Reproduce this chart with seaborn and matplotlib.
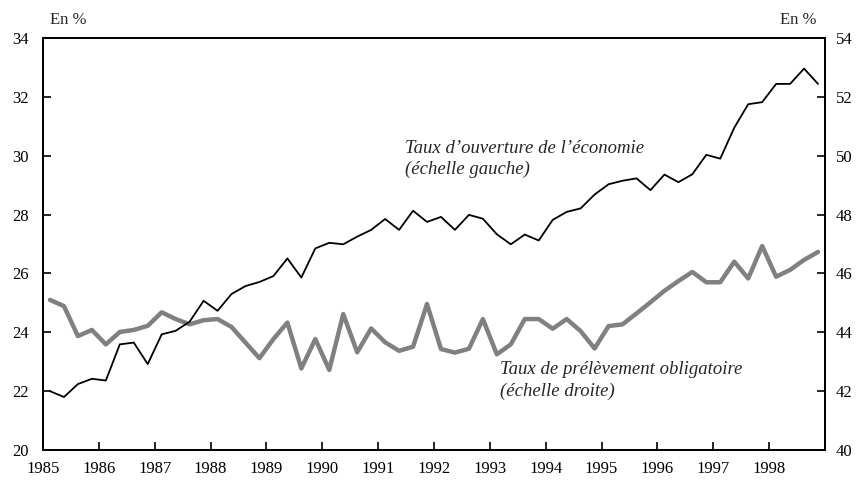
import matplotlib
matplotlib.use('Agg')

import matplotlib.pyplot as plt
import seaborn as sns
import pandas as pd
import numpy as np

# quarterly data, 1985Q1 - 1998Q4
years = list(range(1985, 1999))
quarters = [y + 0.125 + 0.25 * q for y in years for q in range(4)]

ouverture = [22.0, 21.8, 22.24, 22.42, 22.36, 23.59, 23.65, 22.92, 23.93, 24.05,
             24.36, 25.07, 24.73, 25.30, 25.57, 25.71, 25.91, 26.51, 25.86, 26.85,
             27.04, 26.99, 27.25, 27.48, 27.85, 27.48, 28.13, 27.75, 27.92, 27.48,
             27.99, 27.86, 27.33, 26.99, 27.32, 27.12, 27.82, 28.09, 28.21, 28.68,
             29.03, 29.15, 29.23, 28.83, 29.36, 29.10, 29.37, 30.03, 29.90, 30.95,
             31.75, 31.82, 32.44, 32.44, 32.96, 32.44]

prelevement = [45.10, 44.89, 43.87, 44.08, 43.59, 44.01, 44.08, 44.22, 44.68, 44.45,
               44.27, 44.41, 44.45, 44.18, 43.65, 43.12, 43.77, 44.33, 42.77, 43.77,
               42.72, 44.62, 43.32, 44.13, 43.66, 43.37, 43.51, 44.96, 43.43, 43.31,
               43.44, 44.45, 43.25, 43.59, 44.45, 44.45, 44.12, 44.45, 44.04, 43.45,
               44.21, 44.27, 44.64, 45.02, 45.41, 45.74, 46.05, 45.70, 45.70, 46.40,
               45.83, 46.93, 45.89, 46.12, 46.46, 46.73]

left_ticks = [20, 22, 24, 26, 28, 30, 32, 34]
right_ticks = [40, 42, 44, 46, 48, 50, 52, 54]

df = pd.DataFrame({'t': quarters, 'ouv': ouverture, 'prel': prelevement})

sns.set_style("ticks")
plt.rcParams['font.family'] = ['Liberation Serif', 'DejaVu Serif']

fig = plt.figure(figsize=(8.57, 4.82), dpi=100)
ax = fig.add_axes([43/857, 1 - 450/482, (825 - 43)/857, (450 - 38)/482])
ax2 = ax.twinx()

sns.lineplot(data=df, x='t', y='prel', ax=ax2, color='#808080', linewidth=3.2)
sns.lineplot(data=df, x='t', y='ouv', ax=ax, color='black', linewidth=1.3)
ax.set_zorder(ax2.get_zorder() + 1)
ax.patch.set_visible(False)

ax.set_xlim(1985, 1999)
ax.set_ylim(20, 34)
ax2.set_ylim(40, 54)
ax.set_yticks(left_ticks)
ax2.set_yticks(right_ticks)

ax.set_xticks(years)
ax.set_xticklabels([str(y) for y in years])

for a in (ax, ax2):
    a.set_xlabel('')
    a.set_ylabel('')
    for s in a.spines.values():
        s.set_visible(True)
        s.set_linewidth(1.3)
        s.set_color('black')
    a.tick_params(direction='in', length=6, width=1.2, labelsize=12, colors='black')
ax.tick_params(axis='x', pad=8)
ax.tick_params(axis='y', pad=10)
ax2.tick_params(axis='y', pad=8)

fig.text(50/857, 1 - 20/482, 'En %', fontsize=12, va='center', ha='left')
fig.text(817/857, 1 - 20/482, 'En %', fontsize=12, va='center', ha='right')

ax.text(1991.48, 30.26, 'Taux d\u2019ouverture de l\u2019économie', style='italic',
        fontsize=13.5, va='center', ha='left')
ax.text(1991.48, 29.55, '(échelle gauche)', style='italic',
        fontsize=13.5, va='center', ha='left')
ax.text(1993.18, 22.72, 'Taux de prélèvement obligatoire', style='italic',
        fontsize=13.5, va='center', ha='left')
ax.text(1993.18, 22.0, '(échelle droite)', style='italic',
        fontsize=13.5, va='center', ha='left')

plt.savefig('out.png', dpi=100)
